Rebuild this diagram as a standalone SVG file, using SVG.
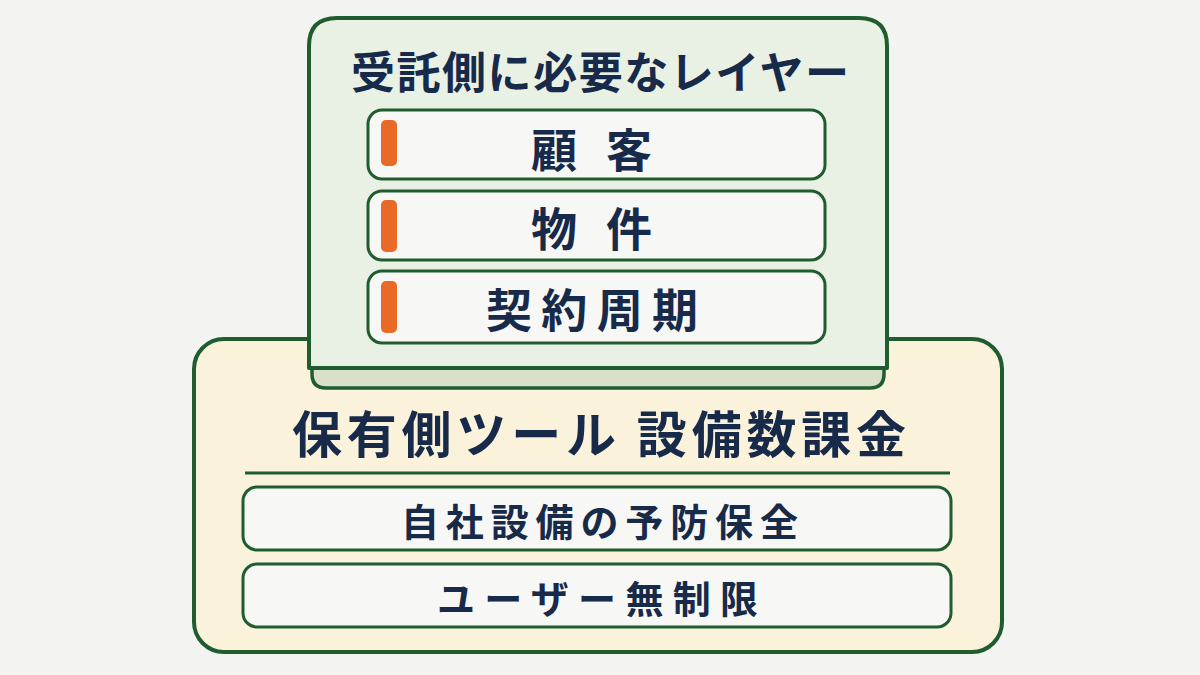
<svg xmlns="http://www.w3.org/2000/svg" width="1200" height="675" viewBox="0 0 1200 675">
<style>
.frame{stroke:#1f5c2e;stroke-width:4;stroke-linejoin:round}
.item{fill:#f7f7f5;stroke:#1f5c2e;stroke-width:3}
.bar{fill:#e86a26}
.t{font-family:"Noto Sans CJK JP","Noto Sans CJK SC",sans-serif;font-weight:700;fill:#172a4a;dominant-baseline:central}
</style>
<rect width="1200" height="675" fill="#f3f3f1"/>
<g id="holder">
<rect class="frame" x="194" y="339" width="808" height="313" rx="30" fill="#fbf2dc"/>
<text class="t" x="292" y="431" font-size="50" textLength="614" lengthAdjust="spacing">保有側ツール 設備数課金</text>
<line x1="245" y1="473" x2="950" y2="473" stroke="#1f5c2e" stroke-width="3"/>
<g id="item-preventive">
<rect class="item" x="243" y="487" width="708" height="63" rx="14"/>
<text class="t" x="401" y="519" font-size="38" textLength="397" lengthAdjust="spacing">自社設備の予防保全</text>
</g>
<g id="item-unlimited">
<rect class="item" x="243" y="564" width="708" height="63" rx="14"/>
<text class="t" x="437" y="596" font-size="38" textLength="321" lengthAdjust="spacing">ユーザー無制限</text>
</g>
</g>
<g id="contractor">
<path d="M312,364 L884,364 L884,374 Q884,388 870,388 L326,388 Q312,388 312,374 Z" fill="#d8e0cc" stroke="#1f5c2e" stroke-width="3.5"/>
<path class="frame" d="M309,368 L309,46 Q309,18 337,18 L859,18 Q887,18 887,46 L887,368 Z" fill="#e9f1e4"/>
<text class="t" x="351" y="70" font-size="44" textLength="498" lengthAdjust="spacing">受託側に必要なレイヤー</text>
<g id="layer-customer">
<rect class="item" x="368" y="110" width="457" height="69" rx="14"/>
<rect class="bar" x="381" y="120" width="16" height="46" rx="5"/>
<text class="t" x="531" y="147" font-size="46" textLength="121" lengthAdjust="spacing">顧客</text>
</g>
<g id="layer-property">
<rect class="item" x="368" y="191" width="457" height="69" rx="14"/>
<rect class="bar" x="381" y="200" width="16" height="52" rx="5"/>
<text class="t" x="531" y="226" font-size="46" textLength="121" lengthAdjust="spacing">物件</text>
</g>
<g id="layer-cycle">
<rect class="item" x="368" y="271" width="457" height="72" rx="14"/>
<rect class="bar" x="381" y="281" width="16" height="52" rx="5"/>
<text class="t" x="486" y="307" font-size="46" textLength="212" lengthAdjust="spacing">契約周期</text>
</g>
</g>
</svg>
